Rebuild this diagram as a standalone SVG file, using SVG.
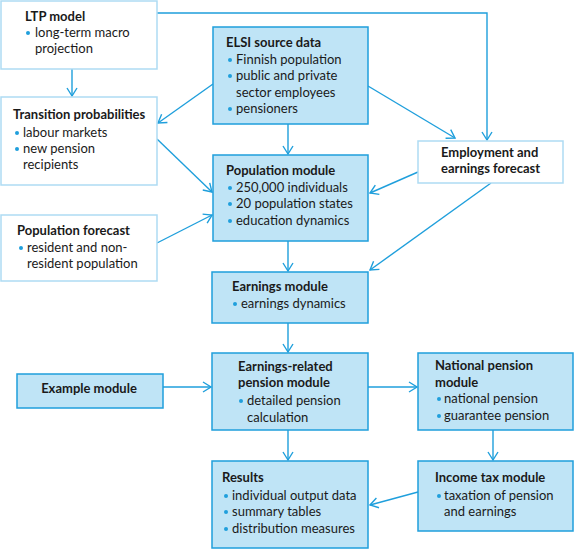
<svg xmlns="http://www.w3.org/2000/svg" width="575" height="550" viewBox="0 0 575 550">
<style>
.bw{fill:#ffffff;stroke:#aedbf3;stroke-width:1.5}
.bb{fill:#bfe4f6;stroke:#1f9fdc;stroke-width:1.5}
text{font-family:Lato,"Liberation Sans",sans-serif;font-size:13px;fill:#1a1a1a}
.t{font-weight:bold}
.d{fill:#1f9fdc}
.c{fill:none;stroke:#1f9fdc;stroke-width:1.4}
</style>
<defs>
<marker id="a" markerUnits="userSpaceOnUse" markerWidth="12" markerHeight="12" refX="8" refY="5" orient="auto" overflow="visible">
<path d="M0,0 L8,5 L0,10" fill="none" stroke="#1f9fdc" stroke-width="1.4"/>
</marker>
</defs>
<g id="connectors">
<path class="c" d="M157,13 H487 V140" marker-end="url(#a)"/>
<path class="c" d="M72,69 V96" marker-end="url(#a)"/>
<path class="c" d="M213,84 L158,123" marker-end="url(#a)"/>
<path class="c" d="M157,139 L212,192" marker-end="url(#a)"/>
<path class="c" d="M157,243 L212,215" marker-end="url(#a)"/>
<path class="c" d="M288,124 V154" marker-end="url(#a)"/>
<path class="c" d="M368,86 L455,138" marker-end="url(#a)"/>
<path class="c" d="M418,172 L370,193" marker-end="url(#a)"/>
<path class="c" d="M491,183 L370,270" marker-end="url(#a)"/>
<path class="c" d="M288,241 V271" marker-end="url(#a)"/>
<path class="c" d="M288,323 V352" marker-end="url(#a)"/>
<path class="c" d="M163,387 H211" marker-end="url(#a)"/>
<path class="c" d="M368,387 H417" marker-end="url(#a)"/>
<path class="c" d="M288,430 V460" marker-end="url(#a)"/>
<path class="c" d="M493,430 V460" marker-end="url(#a)"/>
<path class="c" d="M418,492 L370,505" marker-end="url(#a)"/>
</g>
<g id="ltp">
<rect class="bw" x="1" y="1" width="156" height="68"/>
<text class="t" x="25" y="21">LTP model</text>
<circle class="d" cx="28" cy="33" r="2"/>
<text x="35" y="37">long-term macro</text>
<text x="35" y="53">projection</text>
</g>
<g id="transition">
<rect class="bw" x="1" y="97" width="156" height="88"/>
<text class="t" x="13" y="119">Transition probabilities</text>
<circle class="d" cx="17" cy="133" r="2"/>
<text x="23" y="137">labour markets</text>
<circle class="d" cx="17" cy="149" r="2"/>
<text x="23" y="153">new pension</text>
<text x="23" y="169">recipients</text>
</g>
<g id="popforecast">
<rect class="bw" x="1" y="215" width="156" height="66"/>
<text class="t" x="17" y="235">Population forecast</text>
<circle class="d" cx="21" cy="248" r="2"/>
<text x="27" y="252">resident and non-</text>
<text x="27" y="268">resident population</text>
</g>
<g id="elsi">
<rect class="bb" x="213" y="27" width="155" height="97"/>
<text class="t" x="226" y="47">ELSI source data</text>
<circle class="d" cx="230" cy="60" r="2"/>
<text x="236" y="64">Finnish population</text>
<circle class="d" cx="230" cy="76" r="2"/>
<text x="236" y="80">public and private</text>
<text x="236" y="97">sector employees</text>
<circle class="d" cx="230" cy="109" r="2"/>
<text x="236" y="113">pensioners</text>
</g>
<g id="population">
<rect class="bb" x="213" y="155" width="155" height="86"/>
<text class="t" x="226" y="175">Population module</text>
<circle class="d" cx="230" cy="188" r="2"/>
<text x="236" y="192">250,000 individuals</text>
<circle class="d" cx="230" cy="204" r="2"/>
<text x="236" y="208">20 population states</text>
<circle class="d" cx="230" cy="221" r="2"/>
<text x="236" y="225">education dynamics</text>
</g>
<g id="employment">
<rect class="bw" x="418" y="141" width="145" height="42"/>
<text class="t" x="441" y="157">Employment and</text>
<text class="t" x="441" y="173">earnings forecast</text>
</g>
<g id="earnings">
<rect class="bb" x="212" y="272" width="156" height="51"/>
<text class="t" x="232" y="291">Earnings module</text>
<circle class="d" cx="235" cy="304" r="2"/>
<text x="241" y="308">earnings dynamics</text>
</g>
<g id="example">
<rect class="bb" x="17" y="374" width="146" height="34"/>
<text class="t" x="89" y="393" text-anchor="middle">Example module</text>
</g>
<g id="earningsrelated">
<rect class="bb" x="212" y="353" width="156" height="77"/>
<text class="t" x="238" y="371">Earnings-related</text>
<text class="t" x="238" y="387">pension module</text>
<circle class="d" cx="241" cy="401" r="2"/>
<text x="247" y="405">detailed pension</text>
<text x="247" y="422">calculation</text>
</g>
<g id="national">
<rect class="bb" x="418" y="353" width="155" height="77"/>
<text class="t" x="435" y="370">National pension</text>
<text class="t" x="435" y="387">module</text>
<circle class="d" cx="439" cy="399" r="2"/>
<text x="444" y="403">national pension</text>
<circle class="d" cx="439" cy="416" r="2"/>
<text x="444" y="420">guarantee pension</text>
</g>
<g id="results">
<rect class="bb" x="212" y="461" width="156" height="87"/>
<text class="t" x="222" y="482">Results</text>
<circle class="d" cx="226" cy="496" r="2"/>
<text x="232" y="500">individual output data</text>
<circle class="d" cx="226" cy="512" r="2"/>
<text x="232" y="516">summary tables</text>
<circle class="d" cx="226" cy="529" r="2"/>
<text x="232" y="533">distribution measures</text>
</g>
<g id="incometax">
<rect class="bb" x="418" y="461" width="155" height="70"/>
<text class="t" x="435" y="482">Income tax module</text>
<circle class="d" cx="439" cy="496" r="2"/>
<text x="444" y="500">taxation of pension</text>
<text x="444" y="516">and earnings</text>
</g>
</svg>
